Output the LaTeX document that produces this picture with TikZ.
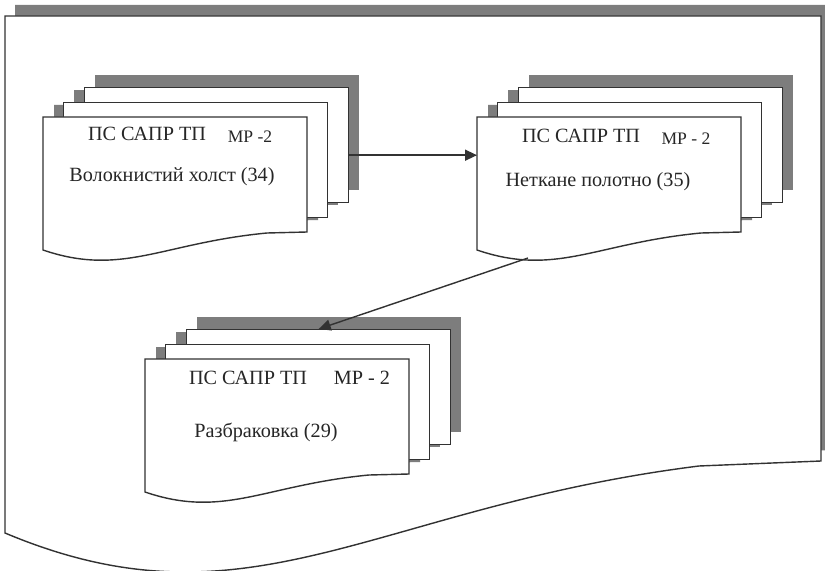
\documentclass[tikz,border=0pt]{standalone}
\usepackage{fontspec}
\setmainfont{Liberation Serif}
\usepackage{tikz}
\usetikzlibrary{arrows.meta}

\definecolor{linegray}{RGB}{50,50,50}
\definecolor{shadegray}{RGB}{125,125,125}

\tikzset{
    sheet/.style={draw=linegray,line width=0.8pt,fill=white},
    shade/.style={fill=shadegray,draw=none},
    backsheet/.style={sheet,rectangle,inner sep=0pt,anchor=north west,minimum width=5.28cm,minimum height=2.3cm},
    pics/docstack/.style={code={
        % shadows first, all behind the sheets
        \begin{scope}[shift={(11,-12)}]
            \fill[shade] (41,-30) rectangle ++(264,115);
            \fill[shade] (20,-15) rectangle ++(264,115);
            \fill[shade] (0,0) -- (0,133) .. controls (79,160) and (119,126) .. (224,116) -- (264,115) -- (264,0) -- cycle;
        \end{scope}
        \node[backsheet] (-p3) at (41,-30) {};
        \node[backsheet] (-p2) at (20,-15) {};
        \draw[sheet] (0,0) -- (0,133) .. controls (79,160) and (119,126) .. (224,116) -- (264,115) -- (264,0) -- cycle;
        \node[inner sep=0pt,anchor=north west,minimum width=5.28cm,minimum height=2.66cm] (-p1) at (0,0) {};
        \coordinate (-foot) at (51,141);
    }}
}

\begin{document}
\begin{tikzpicture}[
    x=0.02cm,y=-0.02cm,
    headtxt/.style={font=\fontsize{11.5}{13}\selectfont,text=black!85},
    codetxt/.style={font=\fontsize{10}{12}\selectfont,text=black!85},
    nametxt/.style={font=\fontsize{11.5}{13}\selectfont,text=black!85},
    arrow/.style={-{Triangle[length=0.24cm,width=0.22cm]},draw=linegray,line width=0.8pt}
]
\clip (0,0) rectangle (825,571);

% outer sheet
\fill[shade] (15,5) -- (15,522) .. controls (260,625) and (382,496) .. (709,455) -- (831,450) -- (831,5) -- cycle;
\draw[sheet] (5,16) -- (5,533) .. controls (250,636) and (372,507) .. (699,466) -- (821,461) -- (821,16) -- cycle;

% document stacks
\pic (vol) at (43,117) {docstack};
\pic (non) at (477,117) {docstack};
\pic (raz) at (145,359) {docstack};

\node[headtxt] (volhead) at (147,134) {ПС САПР ТП};
\node[codetxt] (volcode) at (250,137) {МР -2};
\node[nametxt] (volname) at (172,177) {Волокнистий холст (34)};

\node[headtxt] (nonhead) at (581,136) {ПС САПР ТП};
\node[codetxt] (noncode) at (686,139) {МР - 2};
\node[nametxt] (nonname) at (598,182) {Неткане полотно (35)};

\node[headtxt] (razhead) at (248,378) {ПС САПР ТП};
\node[headtxt] (razcode) at (362,378) {МР - 2};
\node[nametxt] (razname) at (266,432) {Разбраковка (29)};

\draw[arrow] ([yshift=-0.2cm]vol-p3.east) -- ([yshift=-0.2cm]vol-p3.east -| non-p1.west);
\draw[arrow] (non-foot) -- (raz-p3.north);

\end{tikzpicture}
\end{document}
